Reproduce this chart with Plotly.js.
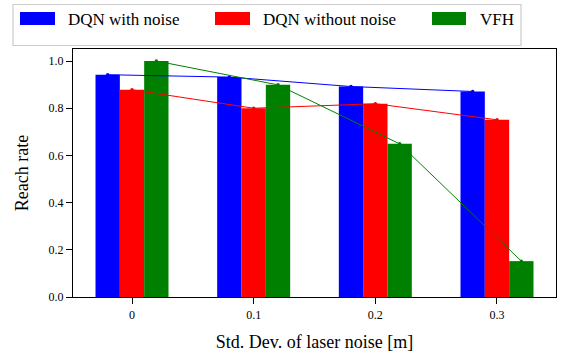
<!DOCTYPE html>
<html>
<head>
<meta charset="utf-8">
<script src="https://cdn.plot.ly/plotly-3.0.1.min.js"></script>
<style>
html,body{margin:0;padding:0;background:#fff;}
#chart{width:569px;height:352px;}
</style>
</head>
<body>
<div id="chart"></div>
<script>
// ---- data ----
const noiseLevels = [0, 0.1, 0.2, 0.3];
const noiseTickText = ['0', '0.1', '0.2', '0.3'];
const seriesNames = ['DQN with noise', 'DQN without noise', 'VFH'];
const dqnWithNoise = [0.942, 0.932, 0.892, 0.871];
const dqnWithoutNoise = [0.878, 0.800, 0.819, 0.751];
const vfh = [1.0, 0.899, 0.649, 0.152];
const yTicks = [0, 0.2, 0.4, 0.6, 0.8, 1.0];

// ---- style ----
const colors = ['#0000ff', '#ff0000', '#008000'];
const barWidth = 0.02;
const offsets = [-0.03, -0.01, 0.01];
const values = [dqnWithNoise, dqnWithoutNoise, vfh];
const font = 'Liberation Serif';
const smallFont = 'serif';

const traces = [];
values.forEach((v, i) => {
  traces.push({
    type: 'bar', x: noiseLevels, y: v, name: seriesNames[i],
    width: barWidth, offset: offsets[i],
    marker: {color: colors[i], line: {width: 0}},
    showlegend: false, hoverinfo: 'x+y+name'
  });
});
values.forEach((v, i) => {
  traces.push({
    type: 'scatter', mode: 'lines+markers',
    x: noiseLevels.map(n => n + offsets[i] + barWidth / 2), y: v,
    line: {color: colors[i], width: 1},
    marker: {color: colors[i], size: 3.5},
    showlegend: false, hoverinfo: 'skip'
  });
});

// plot area in pixels
const L = 73, R = 556, T = 49, B = 297;
const W = 569, H = 352;
const px = x => (x - L) / (R - L);
const py = y => (B - y) / (B - T);

// custom legend (patches + text)
const legendItems = [
  {px0: 20, px1: 55, tx: 68},
  {px0: 215, px1: 250, tx: 263},
  {px0: 432, px1: 466, tx: 480}
];
const shapes = [{
  type: 'rect', xref: 'paper', yref: 'paper',
  x0: px(13), x1: px(521), y0: py(45.5), y1: py(4.5),
  line: {color: '#cccccc', width: 1.2}, fillcolor: 'rgba(255,255,255,0.8)'
}];
const annotations = [];
legendItems.forEach((it, i) => {
  shapes.push({
    type: 'rect', xref: 'paper', yref: 'paper',
    x0: px(it.px0), x1: px(it.px1), y0: py(25), y1: py(12),
    line: {width: 0}, fillcolor: colors[i]
  });
  annotations.push({
    xref: 'paper', yref: 'paper', x: px(it.tx - 2), y: py(19),
    xanchor: 'left', yanchor: 'middle', showarrow: false,
    text: seriesNames[i], font: {family: smallFont, size: 17}
  });
});

const layout = {
  width: W, height: H,
  margin: {l: L, r: W - R, t: T, b: H - B, pad: 0},
  paper_bgcolor: '#fff', plot_bgcolor: '#fff',
  barmode: 'overlay',
  font: {color: '#000'},
  xaxis: {
    range: [-0.0485, 0.3485],
    tickvals: noiseLevels, ticktext: noiseTickText,
    ticks: 'outside', ticklen: 6, tickwidth: 1, tickcolor: '#000',
    showline: true, linecolor: '#000', linewidth: 1.2, mirror: true,
    showgrid: false, zeroline: false,
    tickfont: {family: smallFont, size: 12},
    title: {text: 'Std. Dev. of laser noise [m]', font: {family: font, size: 18}, standoff: 16}
  },
  yaxis: {
    range: [0, 1.051],
    tickvals: yTicks, tickformat: '.1f',
    ticks: 'outside', ticklen: 6, tickwidth: 1, tickcolor: '#000',
    showline: true, linecolor: '#000', linewidth: 1.2, mirror: true,
    showgrid: false, zeroline: false,
    tickfont: {family: smallFont, size: 12},
    title: {text: 'Reach rate', font: {family: font, size: 18}, standoff: 15}
  },
  shapes: shapes,
  annotations: annotations,
  showlegend: false
};

Plotly.newPlot('chart', traces, layout, {displayModeBar: false});
</script>
</body>
</html>
